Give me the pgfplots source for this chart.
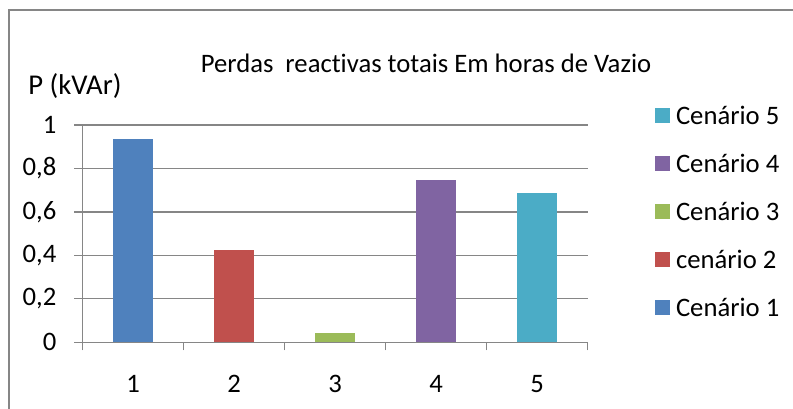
\documentclass[border=0pt]{standalone}
\usepackage{pgfplots}
\pgfplotsset{compat=1.18}
\usepackage{fontspec}
\setmainfont{Carlito}[Ligatures=NoCommon]
\definecolor{c1}{HTML}{4F81BD}
\definecolor{c2}{HTML}{C0504D}
\definecolor{c3}{HTML}{9BBB59}
\definecolor{c4}{HTML}{8064A2}
\definecolor{c5}{HTML}{4BACC6}
\definecolor{axgray}{HTML}{868686}
\newcommand{\chartfont}{\fontsize{20pt}{24pt}\selectfont}
\pgfplotsset{sqbar/.style={ybar, bar width=30.3pt, bar shift=0pt, draw=none, fill=#1,
  legend image code/.code={\fill[#1] (0pt,0.75pt) rectangle (11.25pt,12pt);}}}
\begin{document}
\begin{tikzpicture}[x=0.75pt,y=0.75pt]
\useasboundingbox (0,0) rectangle (793,409);
\draw[axgray, line width=1.5pt] (8.5,0) -- (8.5,399) -- (793,399);
\node[anchor=base, font=\chartfont, inner sep=0pt] at (426,336) {Perdas\ \ reactivas totais Em horas de Vazio};
\node[anchor=base west, font=\fontsize{21.5pt}{25pt}\selectfont, inner sep=0pt] at (28,314) {P (kVAr)};
\begin{axis}[
  scale only axis, width=378.75pt, height=163pt,
  anchor=south west, at={(62.03pt,50.03pt)},
  xmin=0.5, xmax=5.5, ymin=0, ymax=1,
  axis x line*=bottom, axis y line*=left,
  axis line style={axgray, line width=1pt, -},
  xtick={1,2,3,4,5}, xticklabels={1,2,3,4,5},
  minor xtick={0.5,1.5,2.5,3.5,4.5,5.5},
  major x tick style={draw=none},
  ytick={0,0.2,0.4,0.6,0.8,1},
  yticklabels={0,{0,2},{0,4},{0,6},{0,8},1},
  tick align=outside,
  tick style={axgray, line width=1pt},
  major tick length=6.5pt, minor tick length=6pt,
  ymajorgrids, grid style={axgray, line width=1pt},
  /pgf/number format/assume math mode=true,
  tick label style={font=\chartfont, text=black},
  xticklabel style={yshift=-14.5pt},
  yticklabel style={xshift=-9.75pt},
  reverse legend,
  legend style={at={(1.1333,1.0851)}, anchor=north west, draw=none, fill=none,
    inner sep=0pt, outer sep=0pt, row sep=18pt, column sep=4.5pt, font=\chartfont,
    nodes={inner sep=0pt, text height=13.5pt, text depth=4.5pt, anchor=base west},
    cells={anchor=west}},
]
\addplot[sqbar=c1] coordinates {(1,0.935)};
\addlegendentry{Cenário 1}
\addplot[sqbar=c2] coordinates {(2,0.425)};
\addlegendentry{cenário 2}
\addplot[sqbar=c3] coordinates {(3,0.043)};
\addlegendentry{Cenário 3}
\addplot[sqbar=c4] coordinates {(4,0.747)};
\addlegendentry{Cenário 4}
\addplot[sqbar=c5] coordinates {(5,0.687)};
\addlegendentry{Cenário 5}
\end{axis}
\end{tikzpicture}
\end{document}
